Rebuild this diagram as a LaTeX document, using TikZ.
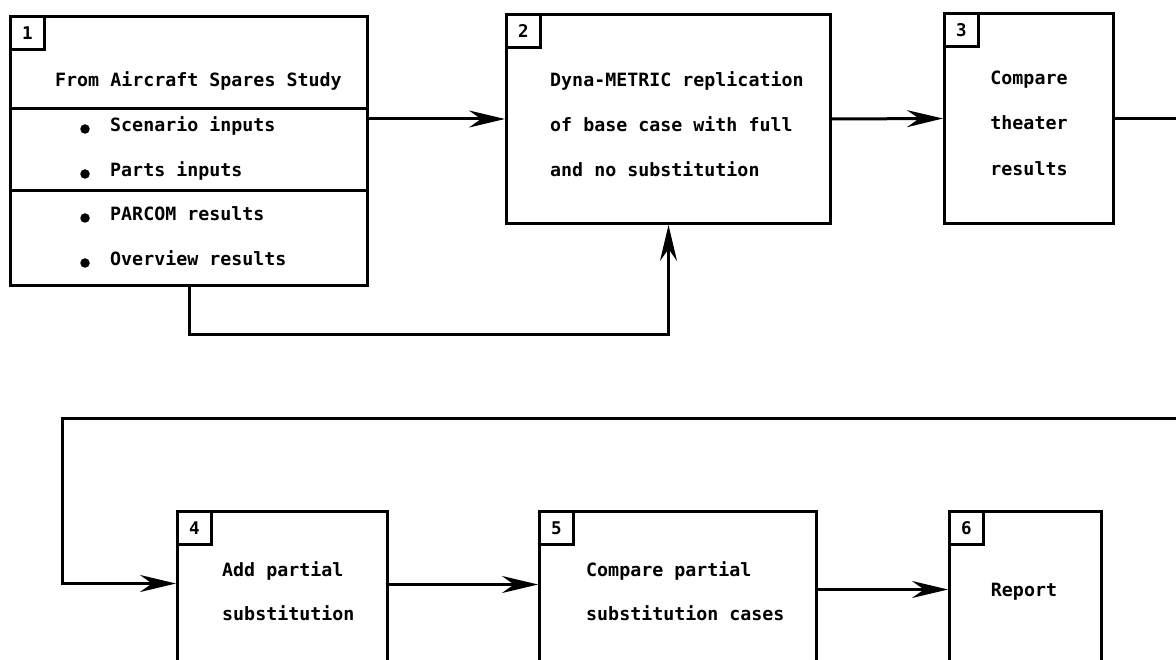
\documentclass[tikz,border=0pt]{standalone}
\usepackage{fontspec}
\newfontfamily\dmono{DejaVu Sans Mono}
\usetikzlibrary{arrows.meta,calc}
\newcommand\boxfont{\fontsize{18.3}{20}\selectfont\dmono\bfseries}
\newcommand\numfont{\fontsize{17.5}{19}\selectfont\dmono\bfseries}
\tikzset{
  box/.style={draw, line width=3pt, anchor=north west, inner sep=0pt},
  numbox/.style={draw, line width=3pt, anchor=north west, inner sep=0pt,
    minimum width=34pt, minimum height=33pt, font=\numfont},
  txt/.style={inner sep=0pt, text height=0.72em, text depth=0pt, font=\boxfont},
  dot/.style={circle, fill, inner sep=0pt, minimum size=9.5pt},
  conn/.style={line width=3pt},
  arr/.style={conn, -{Stealth[length=36pt,width=17pt,inset=12pt]}},
}
\begin{document}
\begin{tikzpicture}[x=1pt,y=-1pt]
\clip (0,0) rectangle (1176,660);
\fill[white] (0,0) rectangle (1176,660);
% box 1
\node[box, minimum width=357pt, minimum height=269pt] (b1) at (9,15) {};
\node[numbox] (n1) at (9,15) {1};
\draw[conn] (9,109) -- (366,109);
\draw[conn] (9,191) -- (366,191);
\node[txt, anchor=west] (t1a) at (55,83) {From Aircraft Spares Study};
\node[dot] (d1) at (85,129) {};
\node[txt, anchor=west] (t1b) at (110,128) {Scenario inputs};
\node[dot] (d2) at (85,174) {};
\node[txt, anchor=west] (t1c) at (110,173) {Parts inputs};
\node[dot] (d3) at (85,218) {};
\node[txt, anchor=west] (t1d) at (110,217) {PARCOM results};
\node[dot] (d4) at (85,263) {};
\node[txt, anchor=west] (t1e) at (110,262) {Overview results};
% box 2
\node[box, minimum width=324pt, minimum height=209pt] (b2) at (505,13) {};
\node[numbox] (n2) at (505,13) {2};
\node[txt, anchor=west] (t2a) at (550,83) {Dyna-METRIC replication};
\node[txt, anchor=west] (t2b) at (550,128) {of base case with full};
\node[txt, anchor=west] (t2c) at (550,173) {and no substitution};
% box 3
\node[box, minimum width=169pt, minimum height=210pt] (b3) at (943,12) {};
\node[numbox] (n3) at (943,12) {3};
\node[txt] (t3a) at (1029,81) {Compare};
\node[txt] (t3b) at (1029,126) {theater};
\node[txt] (t3c) at (1029,172) {results};
% box 4
\node[box, minimum width=210pt, minimum height=180pt] (b4) at (176,510) {};
\node[numbox] (n4) at (176,510) {4};
\node[txt, anchor=west] (t4a) at (222,573) {Add partial};
\node[txt, anchor=west] (t4b) at (222,617) {substitution};
% box 5
\node[box, minimum width=277pt, minimum height=180pt] (b5) at (538,510) {};
\node[numbox] (n5) at (538,510) {5};
\node[txt, anchor=west] (t5a) at (586,573) {Compare partial};
\node[txt, anchor=west] (t5b) at (586,617) {substitution cases};
% box 6
\node[box, minimum width=152pt, minimum height=180pt] (b6) at (948,510) {};
\node[numbox] (n6) at (948,510) {6};
\node[txt] (t6a) at (1024,593) {Report};
% connectors
\coordinate (lp) at (0,335);
\coordinate (rr) at (1200,418);
\coordinate (ll) at (62,418);
\draw[arr] (b1.east |- b2.west) -- (b2.west);
\draw[arr] (b1.south) -- (b1.south |- lp) -| (b2.south);
\draw[arr] (b2.east) -- (b3.west);
\draw[arr] (b3.east) -| (rr) -- (ll) |- ([yshift=18pt]b4.west);
\draw[arr] ([yshift=17pt]b4.east) -- ([yshift=17pt]b5.west);
\draw[arr] ([yshift=12pt]b5.east) -- ([yshift=12pt]b6.west);
\end{tikzpicture}
\end{document}
